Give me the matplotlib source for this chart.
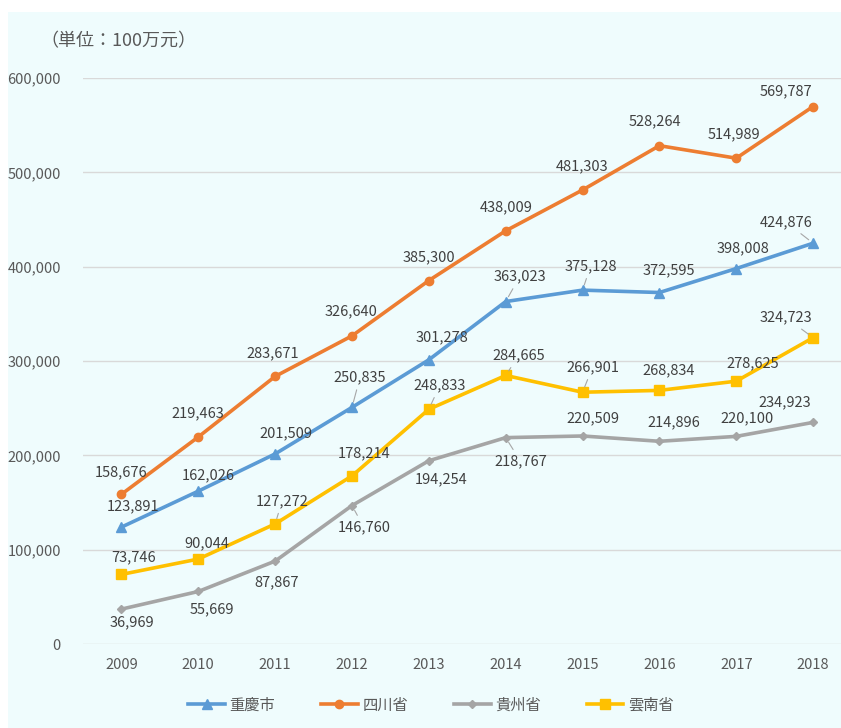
import matplotlib
matplotlib.use("Agg")
import matplotlib.pyplot as plt
from matplotlib.patches import Rectangle

plt.rcParams['font.family'] = ['Noto Sans CJK JP', 'DejaVu Sans']

years = ['2009', '2010', '2011', '2012', '2013', '2014', '2015', '2016', '2017', '2018']
chongqing = [123891, 162026, 201509, 250835, 301278, 363023, 375128, 372595, 398008, 424876]
sichuan = [158676, 219463, 283671, 326640, 385300, 438009, 481303, 528264, 514989, 569787]
guizhou = [36969, 55669, 87867, 146760, 194254, 218767, 220509, 214896, 220100, 234923]
yunnan = [73746, 90044, 127272, 178214, 248833, 284665, 266901, 268834, 278625, 324723]
names = ['重慶市', '四川省', '貴州省', '雲南省']
yticks = [0, 100000, 200000, 300000, 400000, 500000, 600000]

series = [chongqing, sichuan, guizhou, yunnan]
colors = ['#5b9bd5', '#ed7d31', '#a5a5a5', '#ffc000']
markers = ['^', 'o', 'D', 's']
msizes = [6.5, 6.0, 4.5, 7.0]

# label offsets in pixels (dx, dy) and leader flags
offsets = [
    [(12, 21), (10, 16), (11, 21), (8, 30), (13, 22), (14, 25), (8, 24), (9, 22), (7, 20), (-27, 21)],
    [(0, 22), (0, 24), (-2, 23), (-1, 25), (0, 23), (0, 24), (0, 24), (-4, 24), (-2, 24), (-27, 15)],
    [(10, -13), (14, -18), (1, -21), (12, -22), (12, -19), (15, -24), (10, 18), (14, 19), (11, 18), (-28, 20)],
    [(12, 17), (9, 16), (7, 23), (12, 23), (11, 24), (13, 20), (10, 25), (9, 20), (16, 18), (-27, 20)],
]
leaders = [
    [3, 5, 6, 9],
    [],
    [3, 5],
    [2, 4, 5, 6, 9],
]

W, H = 841, 728
fig = plt.figure(figsize=(W / 100, H / 100), dpi=100)
fig.patch.set_facecolor('white')
bg = '#effcfd'
fig.add_artist(Rectangle((8 / W, 0), 1, 1 - 12 / H, transform=fig.transFigure,
                         facecolor=bg, edgecolor='none', zorder=-10))

left, right = 83 / W, 1.0
bottom, top = 1 - 644 / H, 1 - 78 / H
ax = fig.add_axes([left, bottom, right - left, top - bottom])
ax.set_facecolor('none')

x = list(range(len(years)))
handles = []
for s, c, m, ms, name in zip(series, colors, markers, msizes, names):
    h, = ax.plot(x, s, color=c, lw=2.6, marker=m, markersize=ms, markerfacecolor=c,
                 markeredgecolor=c, label=name, zorder=3, solid_joinstyle='round')
    handles.append(h)

for si, s in enumerate(series):
    for i, v in enumerate(s):
        dx, dy = offsets[si][i]
        kw = {}
        if i in leaders[si]:
            kw['arrowprops'] = dict(arrowstyle='-', color='#a6a6a6', lw=0.8,
                                    shrinkA=2, shrinkB=4)
        ax.annotate(f'{v:,}', (i, v), xytext=(dx, dy), textcoords='offset pixels',
                    ha='center', va='center', fontsize=10.5, color='#404040',
                    zorder=4, **kw)

ax.set_xlim(-0.5, (841 - 121) / 76.9)
ax.set_ylim(0, 600000)
ax.set_yticks(yticks)
ax.set_yticklabels([f'{t:,}' for t in yticks])
ax.set_xticks(x)
ax.set_xticklabels(years)
ax.grid(axis='y', color='#d9d9d9', lw=1.0, zorder=0)
ax.set_axisbelow(True)
for sp in ax.spines.values():
    sp.set_visible(False)
ax.tick_params(axis='both', length=0, labelsize=10.5, labelcolor='#595959')
ax.tick_params(axis='y', pad=16)
ax.tick_params(axis='x', pad=10)

fig.text(40 / W, 1 - 41 / H, '（単位：100万元）', fontsize=13, color='#595959',
         ha='left', va='center')

fig.legend(handles=handles, loc='center', bbox_to_anchor=(431 / W, 1 - 705 / H),
           ncol=4, frameon=False, fontsize=11, handlelength=2.4, handletextpad=0.3,
           columnspacing=3.0, labelcolor='#595959')

fig.savefig('out.png', dpi=100, facecolor=fig.get_facecolor())
